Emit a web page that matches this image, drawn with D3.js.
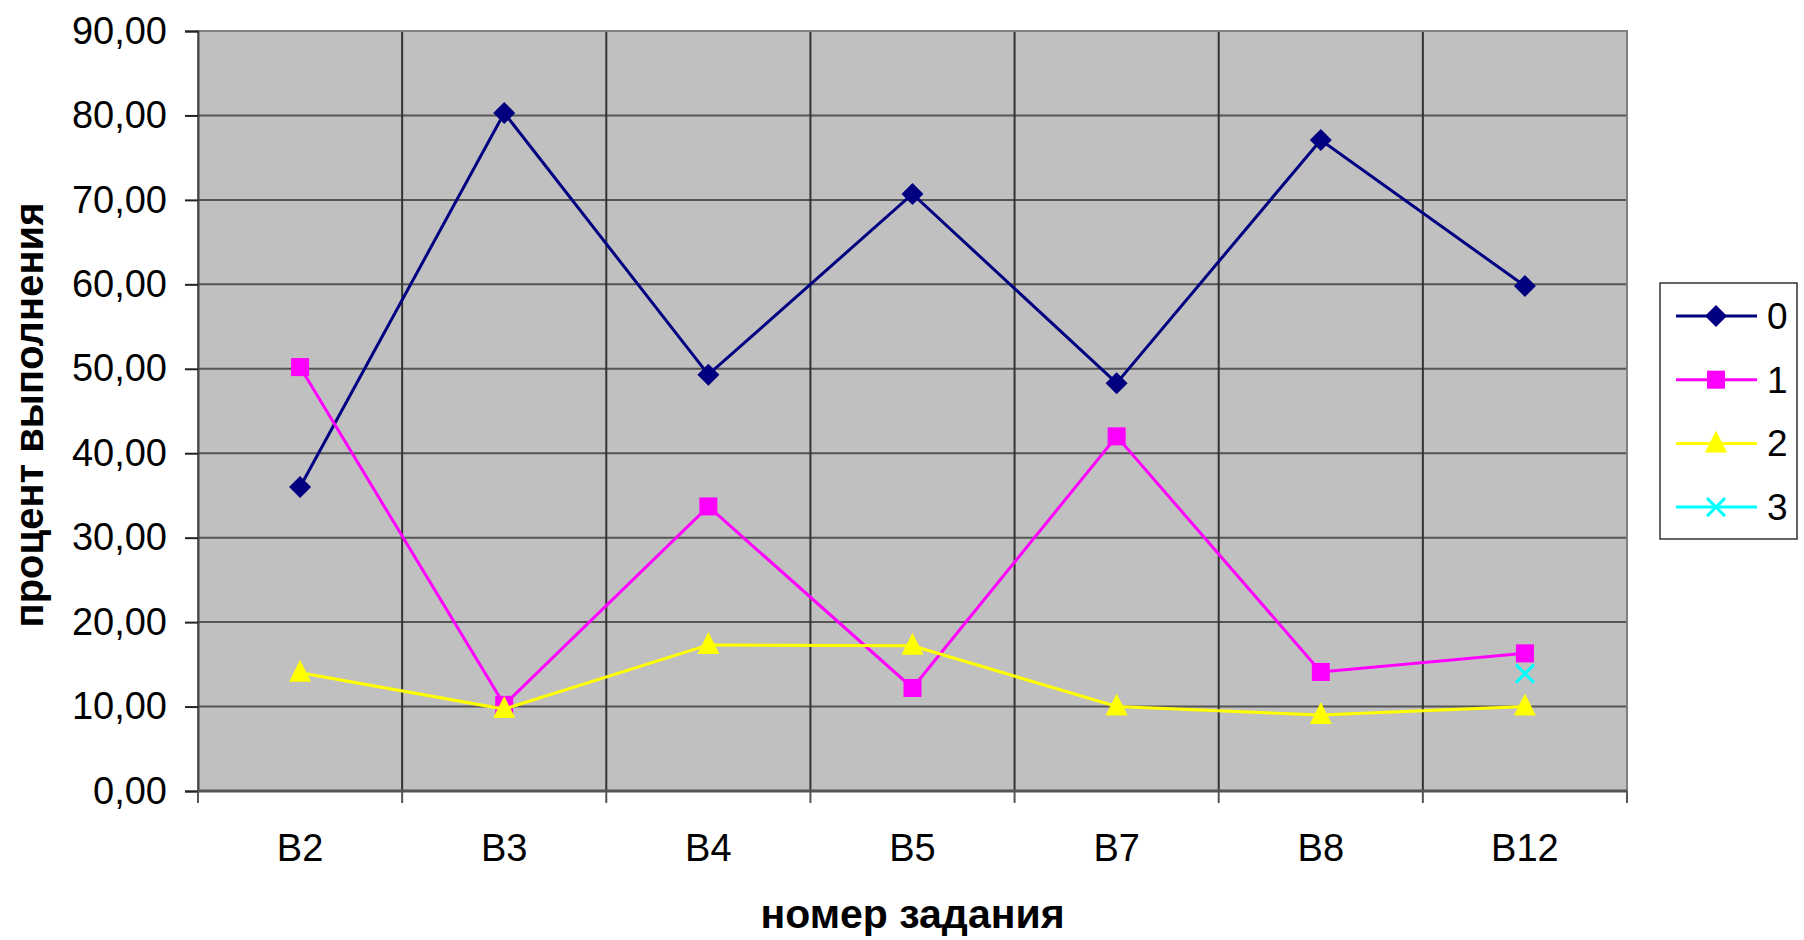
<!DOCTYPE html>
<html><head><meta charset="utf-8">
<script src="https://cdn.jsdelivr.net/npm/d3@7"></script>
<style>body{margin:0;background:#fff}svg{display:block}</style>
</head><body>
<svg id="c" width="1804" height="940"></svg>
<script>
const categories = ["B2","B3","B4","B5","B7","B8","B12"];
const seriesNames = ["0","1","2","3"];
const s0 = [36.0, 80.3, 49.3, 70.7, 48.3, 77.1, 59.8];
const s1 = [50.2, 10.2, 33.7, 12.2, 42.0, 14.1, 16.3];
const s2 = [14.0, 9.7, 17.3, 17.2, 10.0, 9.0, 10.0];
const s3 = [null, null, null, null, null, null, 13.9];
const yTicks = [0,10,20,30,40,50,60,70,80,90];
const colors = ["#000080","#FF00FF","#FFFF00","#00FFFF"];
const markers = ["diamond","square","triangle","x"];

const svg = d3.select("#c");
const L = 198, R = 1627, T = 31, B = 791;
const x = d3.scaleBand().domain(categories).range([L, R]).padding(0);
const y = d3.scaleLinear().domain([0, 90]).range([B, T]);
const font = "'Liberation Sans', Arial, sans-serif";

svg.append("rect").attr("x", L).attr("y", T).attr("width", R-L).attr("height", B-T).attr("fill", "#C0C0C0");

// horizontal gridlines
svg.append("g").selectAll("line").data(yTicks.slice(1)).join("line")
  .attr("x1", L).attr("x2", R).attr("y1", d=>y(d)).attr("y2", d=>y(d))
  .attr("stroke", "#555").attr("stroke-width", 2);
// vertical gridlines at category boundaries
svg.append("g").selectAll("line").data(categories.slice(1)).join("line")
  .attr("x1", d=>x(d)).attr("x2", d=>x(d)).attr("y1", T).attr("y2", B)
  .attr("stroke", "#333").attr("stroke-width", 2);

// border
svg.append("rect").attr("x", L).attr("y", T).attr("width", R-L).attr("height", B-T)
  .attr("fill", "none").attr("stroke", "#808080").attr("stroke-width", 2);

// y axis
const yAxis = d3.axisLeft(y).tickValues(yTicks).tickSize(13).tickPadding(18)
  .tickFormat(d => d3.format(".2f")(d).replace(".", ","));
const gy = svg.append("g").attr("transform", `translate(${L},0)`).call(yAxis);
gy.select(".domain").attr("stroke", "#444").attr("stroke-width", 2);
gy.selectAll(".tick line").attr("stroke", "#222").attr("stroke-width", 2);
gy.selectAll("text").attr("font-family", font).attr("font-size", 38).attr("fill", "#000");

// x axis
const boundaries = categories.map(c => x(c)).concat([R]);
svg.append("line").attr("x1", L).attr("x2", R).attr("y1", B).attr("y2", B).attr("stroke", "#555").attr("stroke-width", 3);
svg.append("g").selectAll("line").data(boundaries).join("line")
  .attr("x1", d=>d).attr("x2", d=>d).attr("y1", B).attr("y2", B+12)
  .attr("stroke", "#555").attr("stroke-width", 2);
svg.append("g").selectAll("text").data(categories).join("text")
  .attr("x", d => x(d) + x.bandwidth()/2).attr("y", 861)
  .attr("text-anchor", "middle").attr("font-family", font).attr("font-size", 38).attr("fill", "#000")
  .text(d => d);

// titles
svg.append("text").attr("x", (L+R)/2).attr("y", 928).attr("text-anchor", "middle")
  .attr("font-family", font).attr("font-size", 41).attr("font-weight", "bold").text("номер задания");
svg.append("text").attr("transform", `translate(43,${(T+B)/2 + 4}) rotate(-90)`).attr("text-anchor", "middle")
  .attr("font-family", font).attr("font-size", 40).attr("font-weight", "bold").text("процент выполнения");

function drawMarker(g, type, color, cx, cy) {
  if (type === "diamond") {
    g.append("path").attr("d", `M${cx},${cy-11}L${cx+11},${cy}L${cx},${cy+11}L${cx-11},${cy}Z`).attr("fill", color);
  } else if (type === "square") {
    g.append("rect").attr("x", cx-9).attr("y", cy-9).attr("width", 18).attr("height", 18).attr("fill", color);
  } else if (type === "triangle") {
    g.append("path").attr("d", `M${cx},${cy-13}L${cx+11},${cy+9}L${cx-11},${cy+9}Z`).attr("fill", color);
  } else {
    g.append("path").attr("d", `M${cx-9},${cy-9}L${cx+9},${cy+9}M${cx+9},${cy-9}L${cx-9},${cy+9}`)
      .attr("stroke", color).attr("stroke-width", 3).attr("fill", "none");
  }
}

const allSeries = [s0, s1, s2, s3];
const line = d3.line().defined(d => d.v != null).x(d => x(d.c) + x.bandwidth()/2).y(d => y(d.v));
allSeries.forEach((s, i) => {
  const data = categories.map((c, k) => ({c, v: s[k]}));
  const g = svg.append("g");
  g.append("path").datum(data).attr("d", line).attr("fill", "none").attr("stroke", colors[i]).attr("stroke-width", 3);
  data.filter(d => d.v != null).forEach(d => drawMarker(g, markers[i], colors[i], x(d.c) + x.bandwidth()/2, y(d.v)));
});

// legend
const lg = svg.append("g");
lg.append("rect").attr("x", 1660).attr("y", 283).attr("width", 137).attr("height", 256)
  .attr("fill", "#fff").attr("stroke", "#333").attr("stroke-width", 1.5);
seriesNames.forEach((n, i) => {
  const yy = 316 + i * 63.7;
  lg.append("line").attr("x1", 1676).attr("x2", 1757).attr("y1", yy).attr("y2", yy).attr("stroke", colors[i]).attr("stroke-width", 3);
  drawMarker(lg, markers[i], colors[i], 1716, yy);
  lg.append("text").attr("x", 1767).attr("y", yy + 13).attr("font-family", font).attr("font-size", 37).text(n);
});
</script>
</body></html>
